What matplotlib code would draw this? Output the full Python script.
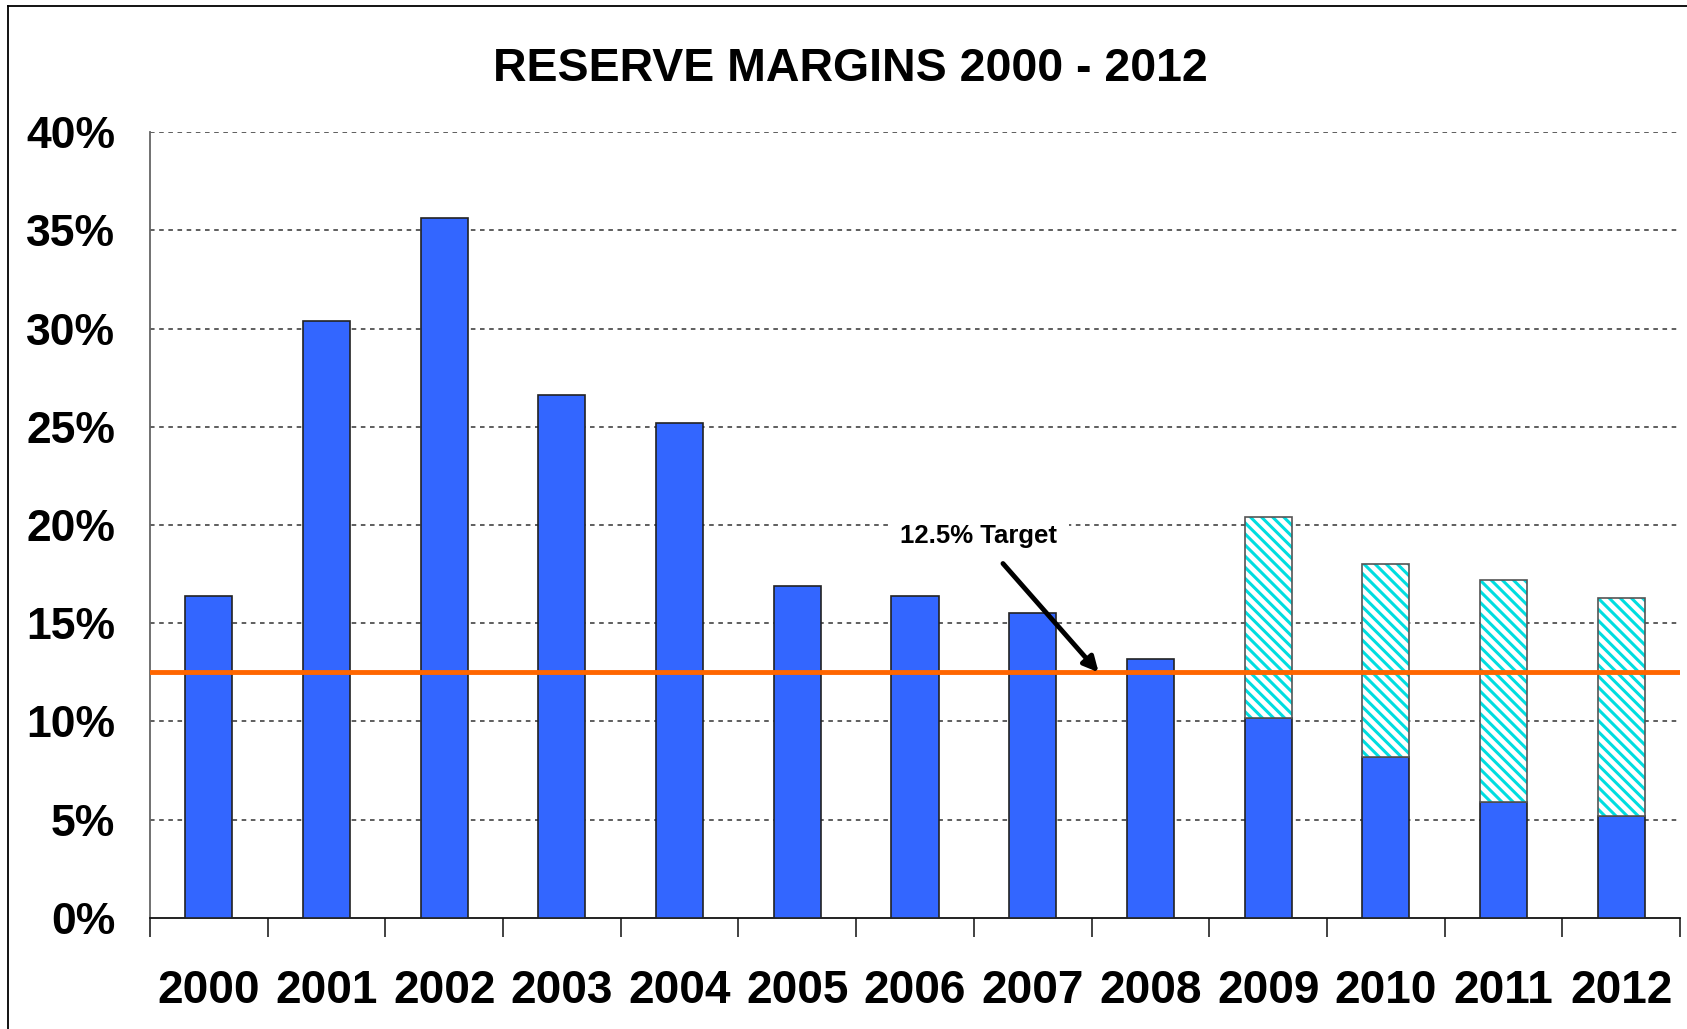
import numpy as np
import matplotlib
matplotlib.use('Agg')
import matplotlib.pyplot as plt
from matplotlib.lines import Line2D

plt.rcParams['font.family'] = ['Liberation Sans', 'DejaVu Sans']
plt.rcParams['hatch.linewidth'] = 2.2

years = ['2000', '2001', '2002', '2003', '2004', '2005', '2006',
         '2007', '2008', '2009', '2010', '2011', '2012']
actual = [16.4, 30.4, 35.6, 26.6, 25.2, 16.9, 16.4, 15.5, 13.2, 10.2, 8.2, 5.9, 5.2]
# projected total margin for the later years (hatched part on top)
projected = [None] * 9 + [20.4, 18.0, 17.2, 16.3]
TARGET = 12.5

fig = plt.figure(figsize=(16.87, 10.29), dpi=100)
ax = fig.add_axes([0.0889, 0.1079, 0.9070, 0.7638])

x = np.arange(len(years))
w = 0.40
ax.bar(x, actual, width=w, color='#3366FF', edgecolor='#222222', lw=1.2, zorder=3)
for i, tot in enumerate(projected):
    if tot is None: continue
    ax.bar(x[i], tot - actual[i], bottom=actual[i], width=w, color='white',
           edgecolor='#00DDE0', hatch='\\\\\\', lw=0, zorder=3)
    ax.bar(x[i], tot - actual[i], bottom=actual[i], width=w, fill=False,
           edgecolor='#555555', lw=1.2, zorder=4)

ax.axhline(TARGET, color='#FF6600', lw=3.5, zorder=5)

ax.annotate('12.5% Target', xy=(7.56, TARGET), xytext=(6.54, 19.45),
            ha='center', va='center', fontsize=18.5, fontweight='bold',
            bbox=dict(boxstyle='square,pad=0.45', fc='white', ec='none'),
            arrowprops=dict(arrowstyle='-|>', color='black', lw=3.5,
                            mutation_scale=22, shrinkA=4, shrinkB=0),
            zorder=6)

ax.set_xlim(-0.5, len(years) - 0.5)
ax.set_ylim(0, 40)
ax.set_yticks(np.arange(0, 41, 5))
ax.set_yticklabels([f'{v}%' for v in range(0, 41, 5)])
ax.set_xticks(x)
ax.set_xticklabels(years)
ax.set_xticks(np.arange(-0.5, len(years), 1), minor=True)
ax.tick_params(axis='x', which='major', length=0, pad=37, labelsize=33)
ax.tick_params(axis='x', which='minor', length=14, width=1.3, color='#333333', direction='out')
ax.tick_params(axis='y', length=0, pad=25, labelsize=32)
for lbl in ax.get_xticklabels() + ax.get_yticklabels():
    lbl.set_fontweight('bold')

for v in range(5, 41, 5):
    ax.axhline(v, color='#333333', lw=1.1, ls=(0, (3, 3)), zorder=1)

for s in ['top', 'right']:
    ax.spines[s].set_visible(False)
ax.spines['left'].set_color('#666666')
ax.spines['left'].set_linewidth(1.3)
ax.spines['bottom'].set_color('#111111')
ax.spines['bottom'].set_linewidth(1.3)

fig.text(0.504, 0.933, 'RESERVE MARGINS 2000 - 2012', ha='center', va='center',
         fontsize=33.5, fontweight='bold')

# outer frame (clipped on right/bottom like the source)
fig.add_artist(Line2D([8/1687, 8/1687], [0, 1 - 6/1029], color='black', lw=1.3))
fig.add_artist(Line2D([8/1687, 1], [1 - 6/1029, 1 - 6/1029], color='black', lw=1.3))

fig.savefig('out.png', dpi=100, facecolor='white')
